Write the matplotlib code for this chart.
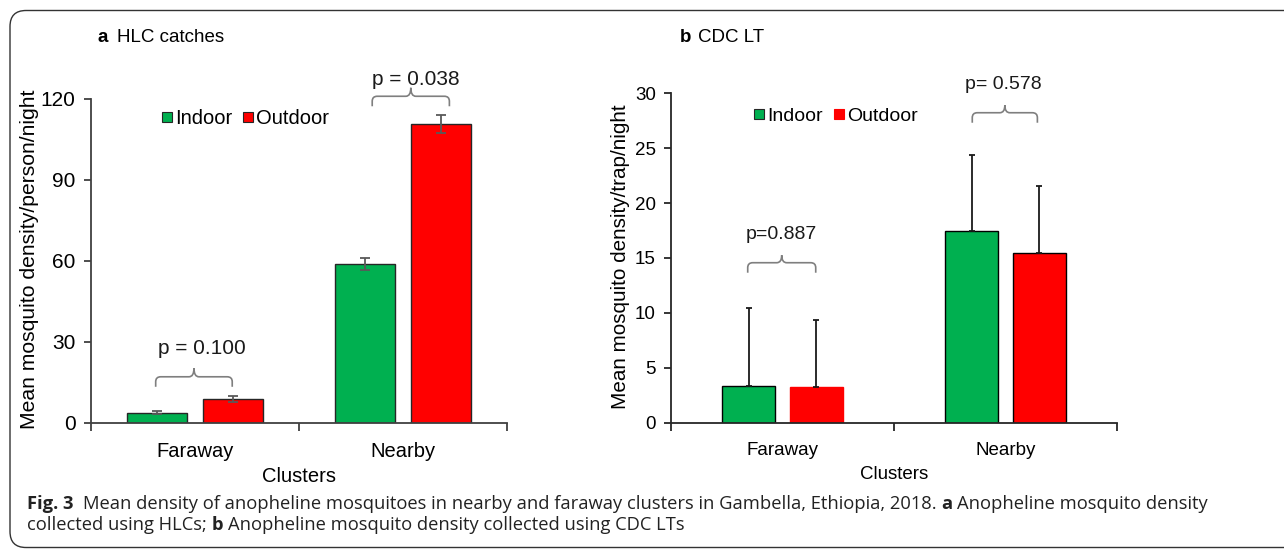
import matplotlib
matplotlib.use('Agg')
import matplotlib.pyplot as plt
from matplotlib.patches import FancyBboxPatch, PathPatch
from matplotlib.lines import Line2D
from matplotlib.path import Path
from matplotlib.transforms import IdentityTransform
import numpy as np

# ---------------- data ----------------
clusters = ['Faraway', 'Nearby']
series = ['Indoor', 'Outdoor']

hlc_indoor = [3.8, 58.9]
hlc_outdoor = [8.9, 110.6]
hlc_indoor_err = [0.5, 2.3]
hlc_outdoor_err = [1.0, 3.3]
hlc_pvals = ['p = 0.100', 'p = 0.038']

cdc_indoor = [3.37, 17.43]
cdc_outdoor = [3.28, 15.43]
cdc_indoor_err = [7.05, 6.95]
cdc_outdoor_err = [6.1, 6.15]
cdc_pvals = ['p=0.887', 'p= 0.578']

# brace annotations: (x_left, x_right, y_line, y_text, x_text)
hlc_braces = [(0.311, 0.679, 17.1, 27.4, 0.534), (1.352, 1.723, 120.9, 127.0, 1.5625)]
cdc_braces = [(0.344, 0.649, 14.57, 17.16, 0.493), (1.351, 1.643, 28.23, 30.8, 1.49)]

GREEN = '#00B050'
RED = '#FF0000'

plt.rcParams['font.family'] = ['Liberation Sans Narrow', 'Liberation Sans', 'DejaVu Sans']

W, H = 1284, 550
fig = plt.figure(figsize=(W / 100, H / 100), dpi=100)


def px_axes(l, t, r, b):
    return fig.add_axes([l / W, 1 - b / H, (r - l) / W, (b - t) / H])


def brace(ax, x0, x1, yline, color, lw=1.2, depth=10, peak=8, r=5):
    # build in display coordinates (pixels)
    p0 = ax.transData.transform((x0, yline))
    p1 = ax.transData.transform((x1, yline))
    X0, Y = p0
    X1 = p1[0]
    Xm = (X0 + X1) / 2
    verts = [(X0, Y - depth), (X0, Y - r), (X0, Y), (X0 + r, Y),
             (Xm - r, Y), (Xm, Y), (Xm, Y + peak),
             (Xm, Y), (Xm + r, Y),
             (X1 - r, Y), (X1, Y), (X1, Y - r), (X1, Y - depth)]
    codes = [Path.MOVETO, Path.LINETO, Path.CURVE3, Path.CURVE3,
             Path.LINETO, Path.CURVE3, Path.CURVE3,
             Path.CURVE3, Path.CURVE3,
             Path.LINETO, Path.CURVE3, Path.CURVE3, Path.LINETO]
    pp = PathPatch(Path(verts, codes), transform=IdentityTransform(), fill=False,
                   edgecolor=color, lw=lw, clip_on=False)
    fig.add_artist(pp)


def setup(ax, ymax, ystep, spc, ytick_fs, xtick_fs):
    ax.set_xlim(0, 2)
    ax.set_ylim(0, ymax)
    ax.set_xticks([0.5, 1.5])
    ax.set_xticklabels(clusters)
    ax.set_xticks([0, 1, 2], minor=True)
    ax.set_yticks(np.arange(0, ymax + 0.1, ystep))
    ax.tick_params(axis='x', which='major', length=0, pad=14, labelsize=xtick_fs)
    ax.tick_params(axis='x', which='minor', length=6, width=1.3, color=spc, direction='out')
    ax.tick_params(axis='y', length=5, width=1.3, color=spc, pad=6, labelsize=ytick_fs)
    for s in ['top', 'right']:
        ax.spines[s].set_visible(False)
    for s in ['left', 'bottom']:
        ax.spines[s].set_color(spc)
        ax.spines[s].set_linewidth(1.3)
    ax.patch.set_alpha(0)


cx = np.array([0.5, 1.5])

# ---------------- panel a ----------------
axa = px_axes(91, 98.7, 507, 423)
setup(axa, 120, 30, '#404040', 15, 14.5)
off_a, w_a = 0.184, 0.29
axa.bar(cx - off_a, hlc_indoor, w_a, color=GREEN, edgecolor='#262626', lw=1)
axa.bar(cx + off_a, hlc_outdoor, w_a, color=RED, edgecolor='#262626', lw=1)
axa.errorbar(cx - off_a, hlc_indoor, yerr=hlc_indoor_err, fmt='none', ecolor='#595959',
             elinewidth=1.3, capsize=3.5, capthick=1.3)
axa.errorbar(cx + off_a, hlc_outdoor, yerr=hlc_outdoor_err, fmt='none', ecolor='#595959',
             elinewidth=1.3, capsize=3.5, capthick=1.3)
axa.set_ylabel('Mean mosquito density/person/night', fontsize=15.2)
axa.yaxis.label.set_va('center')
axa.yaxis.set_label_coords(-0.147, 0.506)
axa.set_xlabel('Clusters', fontsize=14.5)
axa.xaxis.label.set_va('center')
axa.xaxis.set_label_coords(0.5, -0.1665)

handles_a = [Line2D([], [], marker='s', ls='none', markersize=7.5, markerfacecolor=c,
                    markeredgecolor='#262626', markeredgewidth=0.8) for c in (GREEN, RED)]
axa.legend(handles_a, series, loc='center left', bbox_to_anchor=(0.165, 0.94), ncol=2,
           frameon=False, fontsize=14.5, handletextpad=0.05, columnspacing=0.45,
           handlelength=0.7, borderaxespad=0, borderpad=0)

# ---------------- panel b ----------------
axb = px_axes(671, 93.3, 1117, 422.7)
setup(axb, 30, 5, '#262626', 13.5, 13.5)
off_b, w_b = 0.151, 0.237
axb.bar(cx - off_b, cdc_indoor, w_b, color=GREEN, edgecolor='black', lw=1)
axb.bar(cx + off_b, cdc_outdoor, w_b, color=RED, edgecolor=[RED, 'black'], lw=1)
axb.errorbar(cx - off_b, cdc_indoor, yerr=[np.zeros(2), cdc_indoor_err], fmt='none',
             ecolor='#1a1a1a', elinewidth=1.3, capsize=2.5, capthick=1.3)
axb.errorbar(cx + off_b, cdc_outdoor, yerr=[np.zeros(2), cdc_outdoor_err], fmt='none',
             ecolor='#1a1a1a', elinewidth=1.3, capsize=2.5, capthick=1.3)
axb.set_ylabel('Mean mosquito density/trap/night', fontsize=14.9)
axb.yaxis.label.set_va('center')
axb.yaxis.set_label_coords(-0.113, 0.503)
axb.set_xlabel('Clusters', fontsize=13.5)
axb.xaxis.label.set_va('center')
axb.xaxis.set_label_coords(0.5, -0.156)

handles_b = [Line2D([], [], marker='s', ls='none', markersize=7, markerfacecolor=c,
                    markeredgecolor=e, markeredgewidth=0.8) for c, e in ((GREEN, '#262626'), (RED, RED))]
axb.legend(handles_b, series, loc='center left', bbox_to_anchor=(0.183, 0.932), ncol=2,
           frameon=False, fontsize=14, handletextpad=0.05, columnspacing=0.5,
           handlelength=0.7, borderaxespad=0, borderpad=0)

# ---------------- braces and p-values ----------------
for (x0, x1, yl, yt, xt), lab in zip(hlc_braces, hlc_pvals):
    brace(axa, x0, x1, yl, '#7f7f7f', depth=10, peak=8.5)
    axa.text(xt, yt, lab, ha='center', va='center', fontsize=15, color='#1a1a1a', clip_on=False)
for (x0, x1, yl, yt, xt), lab in zip(cdc_braces, cdc_pvals):
    brace(axb, x0, x1, yl, '#7f7f7f', depth=10, peak=7.5)
    axb.text(xt, yt, lab, ha='center', va='center', fontsize=14, color='#1a1a1a', clip_on=False)

# ---------------- panel titles ----------------
fig.text(97 / W, 1 - 37 / H, 'a', fontsize=13.5, fontweight='bold', va='center', ha='left')
fig.text(117 / W, 1 - 37 / H, 'HLC catches', fontsize=13.5, va='center', ha='left')
fig.text(680 / W, 1 - 37 / H, 'b', fontsize=13.5, fontweight='bold', va='center', ha='left')
fig.text(698 / W, 1 - 37 / H, 'CDC LT', fontsize=13.5, va='center', ha='left')

# ---------------- border ----------------
box = FancyBboxPatch((0.10, 0.025), 13.5, 5.395 - 0.025,
                     boxstyle='round,pad=0,rounding_size=0.16',
                     transform=fig.dpi_scale_trans, fill=False, edgecolor='#333333', lw=1.0)
fig.add_artist(box)

# ---------------- caption ----------------
cap_font = ['Open Sans', 'Lato', 'DejaVu Sans']
line1 = [('Fig. 3', 'bold', 0), ('Mean density of anopheline mosquitoes in nearby and faraway clusters in Gambella, Ethiopia, 2018.', 'normal', 2),
         ('a', 'bold', 1), ('Anopheline mosquito density', 'normal', 1)]
line2 = [('collected using HLCs;', 'normal', 0), ('b', 'bold', 1),
         ('Anopheline mosquito density collected using CDC LTs', 'normal', 1)]

renderer = fig.canvas.get_renderer()


def text_width(s, fs, weight):
    t = fig.text(0, 0, s, fontsize=fs, fontweight=weight, family=cap_font)
    w = t.get_window_extent(renderer).width
    t.remove()
    return w


def line_width(parts, fs):
    sp = text_width('a a', fs, 'normal') - text_width('aa', fs, 'normal')
    tot = 0
    for s, wgt, nsp in parts:
        tot += nsp * sp + text_width(s, fs, wgt)
    return tot, sp


fs0 = 12
w0, _ = line_width(line1, fs0)
cap_fs = fs0 * (1202 - 27) / w0


def draw_line(parts, x_px, base_px, fs):
    _, sp = line_width(parts, fs)
    x = x_px
    for s, wgt, nsp in parts:
        x += nsp * sp
        t = fig.text(x / W, 1 - base_px / H, s, fontsize=fs, fontweight=wgt, family=cap_font,
                     va='baseline', ha='left', color='#222222')
        x += t.get_window_extent(renderer).width


draw_line(line1, 27, 509, cap_fs)
draw_line(line2, 27, 530, cap_fs)

fig.savefig('out.png', dpi=100)
